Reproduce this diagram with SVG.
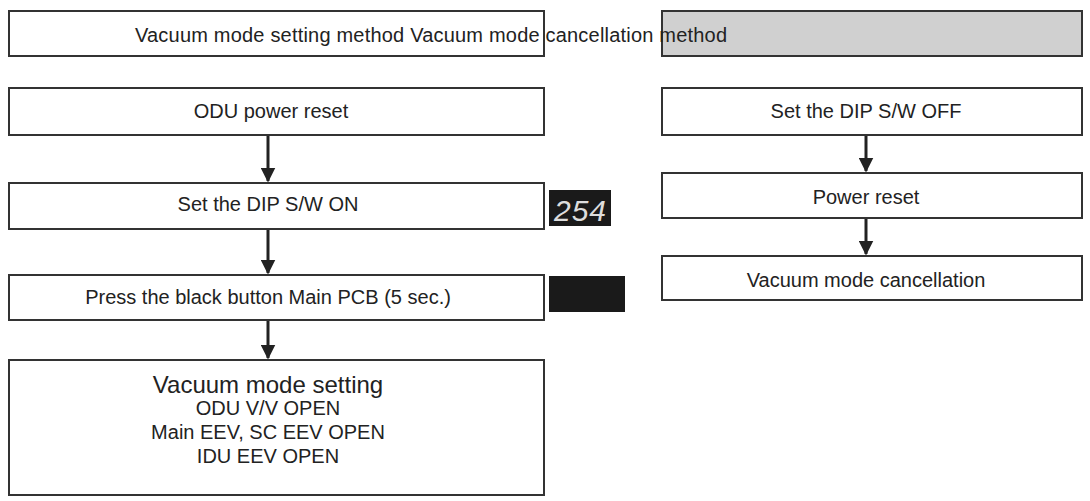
<svg xmlns="http://www.w3.org/2000/svg" width="1090" height="501" viewBox="0 0 1090 501">
<style>
.b{fill:#fff;stroke:#333;stroke-width:2}
.t{font-family:"Liberation Sans",Arial,sans-serif;font-size:20px;fill:#222;text-anchor:middle}
.c{stroke:#222;stroke-width:3;fill:none}
</style>
<defs><marker id="a" viewBox="0 0 10 10" refX="9" refY="5" markerWidth="5" markerHeight="5" orient="auto" markerUnits="strokeWidth"><path d="M0,0L10,5L0,10z" fill="#222"/></marker></defs>
<rect width="1090" height="501" fill="#fff"/>
<g id="hdr-left"><rect class="b" x="9" y="11" width="535" height="45"/></g>
<g id="hdr-right"><rect x="662" y="11" width="420" height="45" fill="#d0d0d0" stroke="#333" stroke-width="2"/></g>
<text class="t" x="135" y="42" style="text-anchor:start" textLength="592">Vacuum mode setting method Vacuum mode cancellation method</text>
<g id="n1"><rect class="b" x="9" y="88" width="535" height="47"/><text class="t" x="271" y="118">ODU power reset</text></g>
<g id="n2"><rect class="b" x="9" y="183" width="535" height="46"/><text class="t" x="268" y="211">Set the DIP S/W ON</text></g>
<g id="n3"><rect class="b" x="9" y="275" width="535" height="45"/><text class="t" x="268" y="304">Press the black button Main PCB (5 sec.)</text></g>
<g id="n4"><rect class="b" x="9" y="360" width="535" height="135"/>
<text class="t" x="268" y="393" style="font-size:24px">Vacuum mode setting</text>
<text class="t" x="268" y="415">ODU V/V OPEN</text>
<text class="t" x="268" y="439">Main EEV, SC EEV OPEN</text>
<text class="t" x="268" y="463">IDU EEV OPEN</text></g>
<g id="disp"><rect x="549" y="190" width="62" height="36" fill="#1a1a1a"/><text x="580" y="221" style="font-family:'Liberation Sans',sans-serif;font-size:30px;font-style:italic;fill:#ddd;text-anchor:middle" textLength="52">254</text></g>
<g id="btn"><rect x="549" y="276" width="76" height="36" fill="#1a1a1a"/></g>
<g id="r1"><rect class="b" x="662" y="88" width="420" height="47"/><text class="t" x="866" y="118">Set the DIP S/W OFF</text></g>
<g id="r2"><rect class="b" x="662" y="173" width="420" height="45"/><text class="t" x="866" y="204">Power reset</text></g>
<g id="r3"><rect class="b" x="662" y="256" width="420" height="44"/><text class="t" x="866" y="287">Vacuum mode cancellation</text></g>
<g id="connectors">
<line class="c" x1="268" y1="136" x2="268" y2="181" marker-end="url(#a)"/>
<line class="c" x1="268" y1="230" x2="268" y2="273" marker-end="url(#a)"/>
<line class="c" x1="268" y1="321" x2="268" y2="358" marker-end="url(#a)"/>
<line class="c" x1="866" y1="136" x2="866" y2="171" marker-end="url(#a)"/>
<line class="c" x1="866" y1="219" x2="866" y2="254" marker-end="url(#a)"/>
</g>
</svg>
